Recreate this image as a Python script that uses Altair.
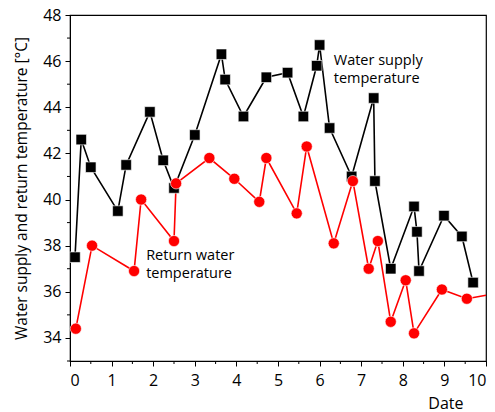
import altair as alt
import pandas as pd

supply_x = [0.12, 0.27, 0.5, 1.15, 1.35, 1.92, 2.24, 2.5, 3.0, 3.64, 3.73, 4.17, 4.72, 5.23,
            5.61, 5.93, 6.0, 6.24, 6.77, 7.3, 7.33, 7.71, 8.27, 8.34, 8.39, 8.99, 9.42, 9.69]
supply_y = [37.5, 42.6, 41.4, 39.5, 41.5, 43.8, 41.7, 40.5, 42.8, 46.3, 45.2, 43.6, 45.3, 45.5,
            43.6, 45.8, 46.7, 43.1, 41.0, 44.4, 40.8, 37.0, 39.7, 38.6, 36.9, 39.3, 38.4, 36.4]

return_x = [0.14, 0.53, 1.54, 1.71, 2.5, 2.55, 3.35, 3.95, 4.55, 4.72, 5.45, 5.69, 6.34, 6.8,
            7.18, 7.4, 7.71, 8.07, 8.27, 8.94, 9.54, 10.0]
return_y = [34.4, 38.0, 36.9, 40.0, 38.2, 40.7, 41.8, 40.9, 39.9, 41.8, 39.4, 42.3, 38.1, 40.8,
            37.0, 38.2, 34.7, 36.5, 34.2, 36.1, 35.7, 35.85]
return_marker = [True] * 21 + [False]

x_major = list(range(0, 11))
x_minor = [i + 0.5 for i in range(10)]
y_major = [34, 36, 38, 40, 42, 44, 46, 48]
y_minor = [33, 35, 37, 39, 41, 43, 45, 47]

labels = ["Water supply\ntemperature", "Return water\ntemperature"]
label_x = [6.34, 1.83]
label_y = [46.3, 37.85]

W, H = 416, 346
FONT = "Open Sans"

sup = pd.DataFrame({"x": supply_x, "y": supply_y})
ret = pd.DataFrame({"x": return_x, "y": return_y, "m": return_marker})

xs = alt.Scale(domain=[0, 10], nice=False)
ys = alt.Scale(domain=[33, 48], nice=False, zero=False)

xax = alt.Axis(values=x_major, format="d", tickSize=5, tickColor="black", domainColor="black",
               labelFont=FONT, labelFontSize=16, labelColor="black", labelPadding=6,
               grid=False, title="Date", titleFont=FONT, titleFontSize=16,
               titleFontWeight="normal", titleColor="black", titleAlign="right",
               titleAnchor="end", titleX=393, titleY=47, titleBaseline="alphabetic")
yax = alt.Axis(values=y_major, format="d", tickSize=5, tickColor="black", domainColor="black",
               labelFont=FONT, labelFontSize=16, labelColor="black", labelPadding=4,
               grid=False, title="Water supply and return temperature [°C]", titleFont=FONT,
               titleFontSize=15.5, titleFontWeight="normal", titleColor="black", titlePadding=13)

X = alt.X("x:Q", scale=xs, axis=xax)
Y = alt.Y("y:Q", scale=ys, axis=yax)

sup_line = alt.Chart(sup).mark_line(color="black", strokeWidth=1.6).encode(x=X, y=Y)
sup_pts = alt.Chart(sup).mark_point(shape="square", filled=True, color="black", size=110,
                                    stroke="white", strokeWidth=0.6, opacity=1).encode(x=X, y=Y)
ret_line = alt.Chart(ret).mark_line(color="#ff0000", strokeWidth=1.6).encode(x=X, y=Y)
ret_pts = alt.Chart(ret).transform_filter("datum.m").mark_point(
    shape="circle", filled=True, color="#ff0000", size=125, stroke="white",
    strokeWidth=0.6, opacity=1).encode(x=X, y=Y)

ymin = alt.Chart(pd.DataFrame({"y": y_minor})).mark_rule(color="black", strokeWidth=1).encode(
    x=alt.value(-3), x2=alt.value(0), y=Y)
xmin = alt.Chart(pd.DataFrame({"x": x_minor})).mark_rule(color="black", strokeWidth=1).encode(
    y=alt.value(H), y2=alt.value(H + 3), x=X)

txt = alt.Chart(pd.DataFrame({"x": label_x, "y": label_y, "t": labels})).mark_text(
    align="left", baseline="top", font=FONT, fontSize=14.5, color="black",
    lineBreak="\n", lineHeight=18).encode(x=X, y=Y, text="t:N")

chart = alt.layer(sup_line, ret_line, sup_pts, ret_pts, ymin, xmin, txt).properties(
    width=W, height=H, autosize=alt.AutoSizeParams(type="none"),
    padding={"left": 70, "top": 15, "right": 9, "bottom": 51},
    background="white"
).configure_view(stroke="black", strokeWidth=1.2)

chart.save("out.html", embed_options={"renderer": "svg", "actions": False})
